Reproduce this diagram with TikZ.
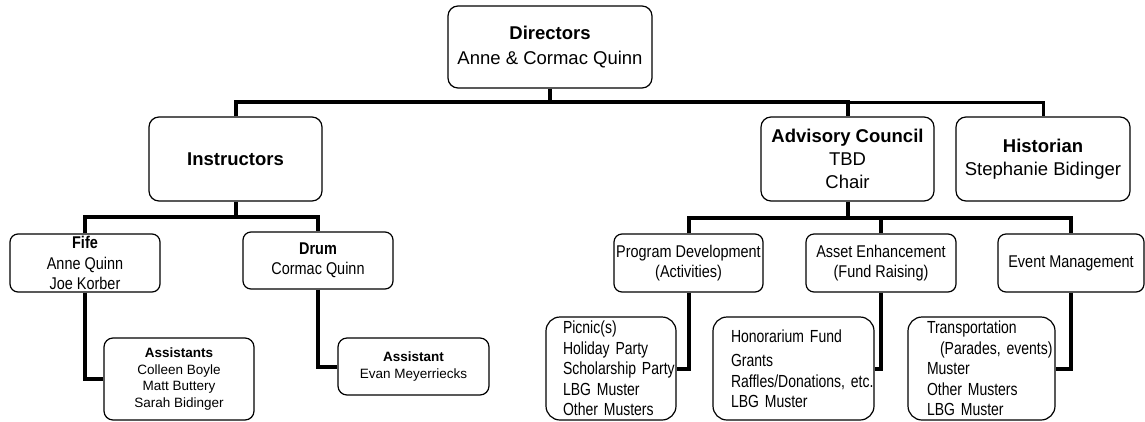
\documentclass[tikz,border=0pt]{standalone}
\usepackage{fontspec}
\setmainfont{Liberation Sans}
\newfontfamily\narrowsans[FakeStretch=0.85]{Liberation Sans}
\newfontfamily\condsans[FakeStretch=0.8]{Liberation Sans}
\newcommand{\ind}[1]{\hspace*{#1pt}}
\begin{document}
\begin{tikzpicture}[x=1pt,y=-1pt,
  box/.style={draw, line width=1.2pt, rounded corners=10pt, align=center, inner sep=0pt},
  topbox/.style={box, font=\fontsize{18.5}{23}\selectfont},
  midbox/.style={box, rounded corners=8pt, font=\narrowsans\fontsize{17}{20.5}\selectfont},
  smallbox/.style={box, rounded corners=9pt, font=\fontsize{13.5}{16.5}\selectfont},
  listbox/.style={draw, line width=1.2pt, rounded corners=14pt, align=left, inner sep=0pt, font=\condsans\fontsize{17.5}{20.5}\selectfont},
  conn/.style={line width=4pt},
  thinconn/.style={line width=3pt}]
\useasboundingbox (0,0) rectangle (1145,421);

% top level
\node[topbox, minimum width=204pt, minimum height=82pt] (dir) at (550,47) {\textbf{Directors}\\[2pt]Anne \& Cormac Quinn};
\node[topbox, minimum width=173pt, minimum height=84pt] (instr) at (235.5,159) {\textbf{Instructors}};
\node[topbox, minimum width=173pt, minimum height=84pt] (adv) at (847.5,159) {\textbf{Advisory Council}\\TBD\\Chair};
\node[topbox, minimum width=174pt, minimum height=84pt] (hist) at (1043,159) {\textbf{Historian}\\Stephanie Bidinger};

% instructors branch
\node[midbox, minimum width=150pt, minimum height=58pt] (fife) at (85,263) {\textbf{Fife}\\Anne Quinn\\Joe Korber};
\node[midbox, minimum width=150pt, minimum height=57pt] (drum) at (318,260.5) {\textbf{Drum}\\Cormac Quinn};
\node[smallbox, minimum width=150pt, minimum height=82pt] (asst) at (179,379) {\textbf{Assistants}\\Colleen Boyle\\Matt Buttery\\Sarah Bidinger};
\node[smallbox, minimum width=151pt, minimum height=57pt] (ass2) at (413.5,366.5) {\textbf{Assistant}\\Evan Meyerriecks};

% advisory branch
\node[midbox, minimum width=149pt, minimum height=58pt] (prog) at (688.5,263) {Program Development\\(Activities)};
\node[midbox, minimum width=150pt, minimum height=58pt] (asset) at (881,263) {Asset Enhancement\\(Fund Raising)};
\node[midbox, minimum width=146pt, minimum height=58pt] (event) at (1071,263) {Event Management};

\node[listbox, text width=130pt, minimum height=103pt] (list1) at (611,368.5) {\ind{17}Picnic(s)\\\ind{17}Holiday Party\\\ind{17}Scholarship Party\\\ind{17}LBG Muster\\\ind{17}Other Musters};
\node[listbox, text width=161pt, minimum height=103pt] (list2) at (793.5,368.5) {\ind{18}Honorarium Fund\\[4pt]\ind{18}Grants\\\ind{18}Raffles/Donations, etc.\\\ind{18}LBG Muster};
\node[listbox, text width=147pt, minimum height=103pt] (list3) at (981.5,368.5) {\ind{19}Transportation\\\ind{32}(Parades, events)\\\ind{19}Muster\\\ind{19}Other Musters\\\ind{19}LBG Muster};

% connectors
\coordinate (b1) at (550,102);
\coordinate (b2) at (0,217);
\coordinate (b3) at (0,218);

\draw[conn] (dir.south) -- (dir.south |- b1);
\draw[conn] (instr.north) |- (adv.north |- b1) -- (adv.north);
\draw[thinconn] (adv.north |- b1) -| (hist.north);

\draw[conn] (instr.south) -- (instr.south |- b2);
\draw[conn] (fife.north) |- (drum.north |- b2) -- (drum.north);
\draw[conn] (fife.south) |- (asst.west);
\draw[conn] (drum.south) |- (ass2.west);

\draw[conn] (adv.south) -- (adv.south |- b3);
\draw[conn] (prog.north) |- (event.north |- b3) -- (event.north);
\draw[conn] (asset.north) -- (asset.north |- b3);
\draw[conn] (prog.south) |- (list1.east);
\draw[conn] (asset.south) |- (list2.east);
\draw[conn] (event.south) |- (list3.east);
\end{tikzpicture}
\end{document}
